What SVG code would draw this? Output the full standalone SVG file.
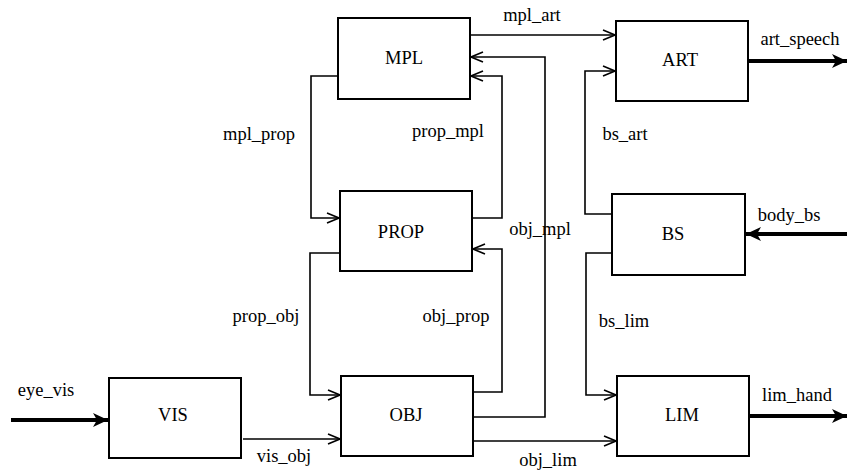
<svg xmlns="http://www.w3.org/2000/svg" width="847" height="474" viewBox="0 0 847 474">
<style>
.box{fill:#fff;stroke:#000;stroke-width:2}
.lbl{font-family:'Liberation Serif','Times New Roman',Times,serif;font-size:18.5px;fill:#000;text-anchor:middle}
.c{fill:none;stroke:#000;stroke-width:1.6}
.t{fill:none;stroke:#000;stroke-width:4}
</style>
<defs>
<marker id="open" markerUnits="userSpaceOnUse" markerWidth="14" markerHeight="12" refX="13" refY="6" orient="auto">
<path d="M1,1 L13,6 L1,11" fill="none" stroke="#000" stroke-width="1.6"/>
</marker>
<marker id="solid" markerUnits="userSpaceOnUse" markerWidth="16" markerHeight="14" refX="15" refY="7" orient="auto">
<path d="M0,0 L15,7 L0,14 L4,7 Z" fill="#000"/>
</marker>
</defs>
<rect width="847" height="474" fill="#fff"/>
<g id="connectors">
<path class="c" d="M470,35 H615" marker-end="url(#open)"/>
<path class="c" d="M473,417 H545 V57 H471" marker-end="url(#open)"/>
<path class="c" d="M472,218 H502 V76 H471" marker-end="url(#open)"/>
<path class="c" d="M338,76 H311 V218 H339" marker-end="url(#open)"/>
<path class="c" d="M473,392 H502 V249 H473" marker-end="url(#open)"/>
<path class="c" d="M340,253 H310 V395 H340" marker-end="url(#open)"/>
<path class="c" d="M243,439 H340" marker-end="url(#open)"/>
<path class="c" d="M473,441 H616" marker-end="url(#open)"/>
<path class="c" d="M612,214 H585 V71 H615" marker-end="url(#open)"/>
<path class="c" d="M612,253 H586 V395 H616" marker-end="url(#open)"/>
<path class="t" d="M11,420 H108" marker-end="url(#solid)"/>
<path class="t" d="M749,61 H847" marker-end="url(#solid)"/>
<path class="t" d="M847,234 H746" marker-end="url(#solid)"/>
<path class="t" d="M750,416 H847" marker-end="url(#solid)"/>
<text class="lbl" x="532" y="21">mpl_art</text>
<text class="lbl" x="800" y="45">art_speech</text>
<text class="lbl" x="259" y="140">mpl_prop</text>
<text class="lbl" x="448" y="137">prop_mpl</text>
<text class="lbl" x="625" y="140">bs_art</text>
<text class="lbl" x="540" y="235">obj_mpl</text>
<text class="lbl" x="789" y="221">body_bs</text>
<text class="lbl" x="266" y="322">prop_obj</text>
<text class="lbl" x="456" y="322">obj_prop</text>
<text class="lbl" x="624" y="327">bs_lim</text>
<text class="lbl" x="46" y="396">eye_vis</text>
<text class="lbl" x="284" y="462">vis_obj</text>
<text class="lbl" x="548" y="466">obj_lim</text>
<text class="lbl" x="797" y="401">lim_hand</text>
</g>
<g id="MPL"><rect class="box" x="338" y="18" width="132" height="81"/><text class="lbl" x="404" y="64">MPL</text></g>
<g id="ART"><rect class="box" x="616" y="21" width="132" height="80"/><text class="lbl" x="680" y="66">ART</text></g>
<g id="PROP"><rect class="box" x="340" y="191" width="132" height="80"/><text class="lbl" x="401" y="238">PROP</text></g>
<g id="BS"><rect class="box" x="612" y="194" width="133" height="81"/><text class="lbl" x="673" y="240">BS</text></g>
<g id="VIS"><rect class="box" x="109" y="378" width="132" height="80"/><text class="lbl" x="173" y="421">VIS</text></g>
<g id="OBJ"><rect class="box" x="341" y="376" width="132" height="80"/><text class="lbl" x="406" y="421">OBJ</text></g>
<g id="LIM"><rect class="box" x="617" y="376" width="132" height="80"/><text class="lbl" x="682" y="421">LIM</text></g>
</svg>
